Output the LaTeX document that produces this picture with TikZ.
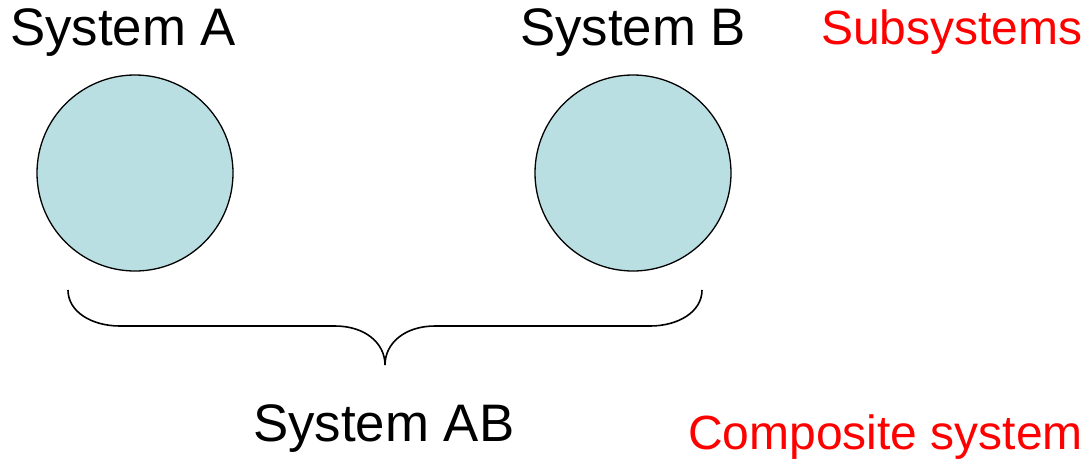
\documentclass[tikz,border=0pt]{standalone}
\usepackage{fontspec}
\setmainfont{Liberation Sans}
\definecolor{circfill}{HTML}{BADFE3}
\definecolor{labred}{HTML}{FF0000}
\begin{document}
\begin{tikzpicture}[x=1pt,y=-1pt,
  sysnode/.style={circle,draw=black,fill=circfill,line width=1.3pt,minimum size=196pt,inner sep=0pt},
  blacklabel/.style={anchor=base west,inner sep=0pt,font=\fontsize{52.8}{60}\selectfont},
  redlabel/.style={anchor=base west,inner sep=0pt,text=labred,font=\fontsize{48}{56}\selectfont},
  bracestyle/.style={draw=black,line width=1.6pt}]
\useasboundingbox (0,0) rectangle (1090,459);
\node[sysnode] (A) at (135,173) {};
\node[sysnode] (B) at (633,173) {};
\node[blacklabel] (lA) at (10,45) {System A};
\node[blacklabel] (lB) at (520,45) {System B};
\node[redlabel] (sub) at (821,44) {Subsystems};
\node[blacklabel] (lAB) at (253,441) {System AB};
\node[redlabel] (comp) at (688,449) {Composite system};
\coordinate (bl) at (68,290);
\coordinate (br) at (702,290);
\coordinate (tip) at (385,365);
\draw[bracestyle] (bl) .. controls (68,312) and (92,326) .. (120,326)
  -- (335,326) .. controls (365,326) and (385,343) .. (tip)
  .. controls (385,343) and (405,326) .. (435,326)
  -- (650,326) .. controls (678,326) and (702,312) .. (br);
\end{tikzpicture}
\end{document}
